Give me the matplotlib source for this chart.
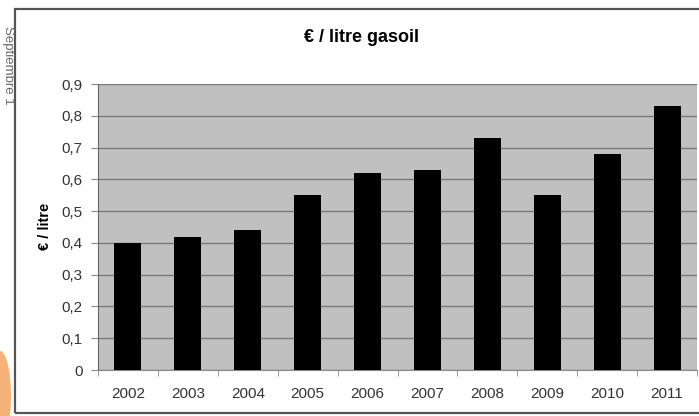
import numpy as np
import matplotlib
matplotlib.use("Agg")
import matplotlib.pyplot as plt
from matplotlib.patches import Rectangle, Ellipse

# data
years = ["2002", "2003", "2004", "2005", "2006", "2007", "2008", "2009", "2010", "2011"]
prices = [0.40, 0.42, 0.44, 0.55, 0.62, 0.63, 0.73, 0.55, 0.68, 0.83]
yticks = [0, 0.1, 0.2, 0.3, 0.4, 0.5, 0.6, 0.7, 0.8, 0.9]
ytick_labels = ["0", "0,1", "0,2", "0,3", "0,4", "0,5", "0,6", "0,7", "0,8", "0,9"]

plt.rcParams['font.family'] = ['Liberation Sans', 'DejaVu Sans']

W, H = 699, 416
fig = plt.figure(figsize=(W / 100, H / 100), dpi=100)

# outer chart frame (cropped on the right)
fig.patches.append(Rectangle((15 / W, 3 / H), 700 / W, (407 - 3) / H,
                             transform=fig.transFigure, fill=False,
                             edgecolor="#555555", linewidth=1.6))
# bits of the slide around the chart
fig.patches.append(Ellipse((0 / W, 20 / H), 22 / W, 90 / H,
                           transform=fig.transFigure, facecolor="#f5b37a",
                           edgecolor="none"))
fig.text(2 / W, 1 - 65 / H, "Septiembre 1", rotation=-90, fontsize=9.5,
         color="#666666", ha="left", va="center")

ax = fig.add_axes([98 / W, 46 / H, (697 - 98) / W, (370 - 84) / H])
ax.set_facecolor("#c0c0c0")

x = np.arange(len(years))
ax.bar(x, prices, width=0.45, color="black", zorder=3)

ax.set_xlim(-0.5, len(years) - 0.5)
ax.set_ylim(0, 0.9)
ax.set_yticks(yticks)
ax.set_yticklabels(ytick_labels)
ax.yaxis.grid(True, color="#7a7a7a", linewidth=1.0, zorder=1)

ax.set_xticks(x)
ax.set_xticklabels(years)
ax.set_xticks(np.arange(len(years) + 1) - 0.5, minor=True)
ax.tick_params(axis="x", which="major", length=0, pad=12, labelsize=11, colors="#333333")
ax.tick_params(axis="x", which="minor", length=4, color="#888888")
ax.tick_params(axis="y", length=5, color="#888888", labelsize=11, labelcolor="#333333", pad=6)

for side in ["top", "right"]:
    ax.spines[side].set_visible(False)
ax.spines["left"].set_color("#666666")
ax.spines["bottom"].set_color("#888888")

fig.text(362 / W, 1 - 37 / H, "€ / litre gasoil", fontsize=13, fontweight="bold",
         ha="center", va="center")
fig.text(45 / W, 1 - 226 / H, "€ / litre", fontsize=10.5, fontweight="bold",
         rotation=90, ha="center", va="center")

fig.savefig("out.png", dpi=100)
